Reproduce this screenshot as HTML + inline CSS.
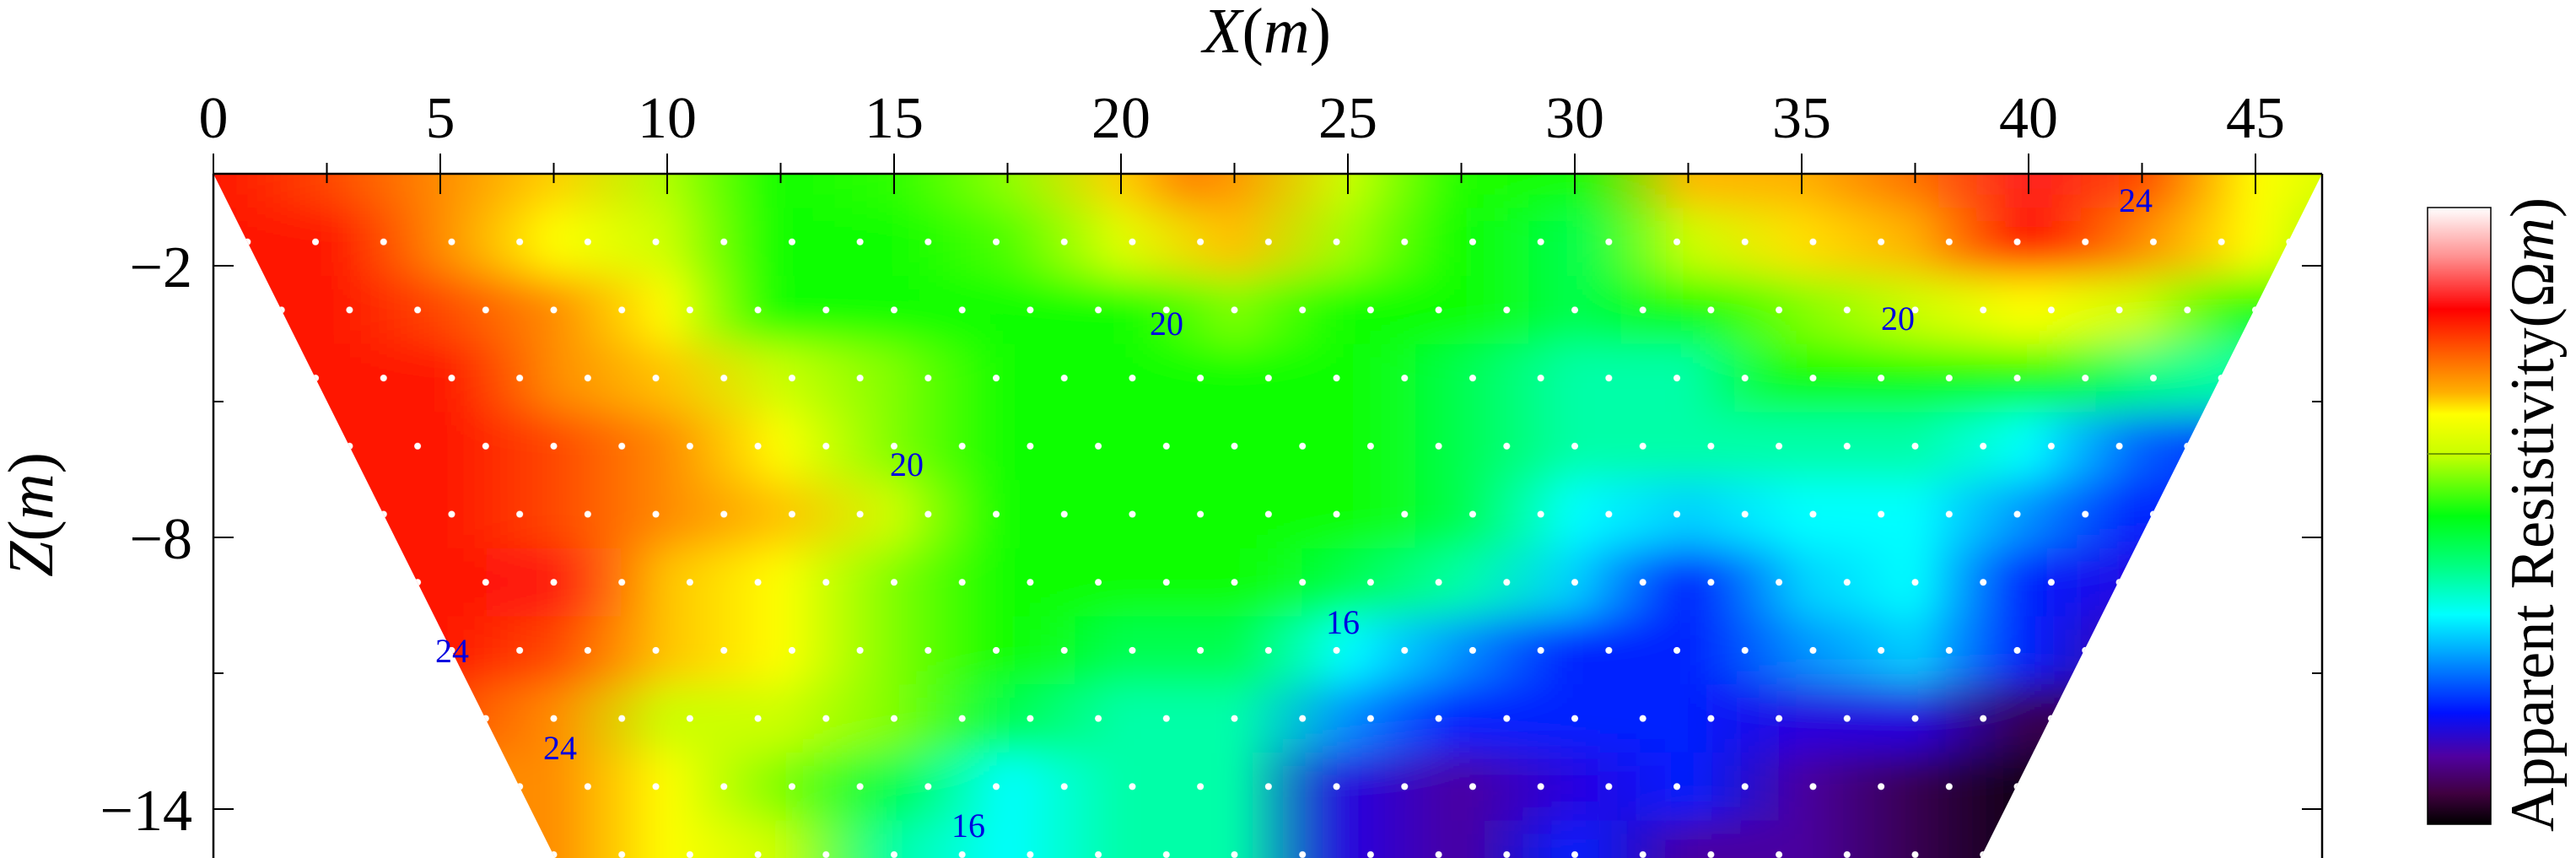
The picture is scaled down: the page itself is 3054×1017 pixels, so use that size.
<!DOCTYPE html>
<html><head><meta charset="utf-8"><style>
html,body{margin:0;padding:0;background:#fff;overflow:hidden;width:3054px;height:1017px;}
svg{display:block;}
text{font-family:"Liberation Serif",serif;}
</style></head><body>
<svg width="3054" height="1017" viewBox="0 0 3054 1017" xmlns="http://www.w3.org/2000/svg" overflow="hidden">
<defs>
<clipPath id="trap"><polygon points="253,206 2753,206 2348,1017 658,1017"/></clipPath>
<filter id="bl" x="-10%" y="-10%" width="120%" height="120%"><feGaussianBlur stdDeviation="18 24"/></filter>
<pattern id="dp" patternUnits="userSpaceOnUse" x="253" y="246.35" width="80.7" height="161.4">
<circle cx="40.35" cy="40.35" r="4" fill="#fff"/>
<circle cx="0" cy="121.05" r="4" fill="#fff"/>
<circle cx="80.7" cy="121.05" r="4" fill="#fff"/>
</pattern>
<linearGradient id="cb" x1="0" y1="0" x2="0" y2="1">
<stop offset="0" stop-color="#ffffff"/><stop offset="0.08" stop-color="#ff9090"/><stop offset="0.165" stop-color="#ff0000"/>
<stop offset="0.25" stop-color="#ff7000"/><stop offset="0.30" stop-color="#ffb000"/><stop offset="0.335" stop-color="#ffff00"/>
<stop offset="0.40" stop-color="#c8ff00"/><stop offset="0.50" stop-color="#00ff10"/><stop offset="0.58" stop-color="#00ff80"/>
<stop offset="0.66" stop-color="#00ffff"/><stop offset="0.72" stop-color="#00a8ff"/><stop offset="0.82" stop-color="#0010ff"/>
<stop offset="0.89" stop-color="#5000a0"/><stop offset="0.95" stop-color="#400040"/><stop offset="1" stop-color="#000000"/>
</linearGradient>
<linearGradient id="r0" gradientUnits="userSpaceOnUse" x1="118.5" y1="0" x2="2808.5" y2="0">
<stop offset="0" stop-color="#ff1400"/><stop offset=".05" stop-color="#ff1400"/><stop offset=".1" stop-color="#ff4800"/><stop offset=".15" stop-color="#ff8c00"/><stop offset=".2" stop-color="#ffd000"/><stop offset=".25" stop-color="#b0ff00"/><stop offset=".3" stop-color="#10ff00"/><stop offset=".35" stop-color="#30ff00"/><stop offset=".4" stop-color="#90ff00"/><stop offset=".45" stop-color="#ffd000"/><stop offset=".48" stop-color="#ff8000"/><stop offset=".5" stop-color="#ff9800"/><stop offset=".55" stop-color="#ccff00"/><stop offset=".6" stop-color="#20ff00"/><stop offset=".65" stop-color="#10ff00"/><stop offset=".7" stop-color="#ffb800"/><stop offset=".75" stop-color="#ffb000"/><stop offset=".8" stop-color="#ff7000"/><stop offset=".85" stop-color="#ff2020"/><stop offset=".9" stop-color="#ff4800"/><stop offset=".95" stop-color="#ffff00"/><stop offset="1" stop-color="#ccff00"/>
</linearGradient>
<linearGradient id="r1" gradientUnits="userSpaceOnUse" x1="118.5" y1="0" x2="2808.5" y2="0">
<stop offset="0" stop-color="#ff1400"/><stop offset=".05" stop-color="#ff1400"/><stop offset=".1" stop-color="#ff1400"/><stop offset=".15" stop-color="#ff8c00"/><stop offset=".2" stop-color="#ffff00"/><stop offset=".25" stop-color="#ccff00"/><stop offset=".3" stop-color="#10ff00"/><stop offset=".35" stop-color="#10ff00"/><stop offset=".4" stop-color="#50ff00"/><stop offset=".45" stop-color="#e0ff00"/><stop offset=".5" stop-color="#ffc000"/><stop offset=".55" stop-color="#a0ff00"/><stop offset=".6" stop-color="#10ff00"/><stop offset=".65" stop-color="#00ff50"/><stop offset=".7" stop-color="#ccff00"/><stop offset=".75" stop-color="#ffe000"/><stop offset=".8" stop-color="#ffb000"/><stop offset=".85" stop-color="#ff1400"/><stop offset=".9" stop-color="#ff8c00"/><stop offset=".95" stop-color="#ffff00"/><stop offset="1" stop-color="#80ff00"/>
</linearGradient>
<linearGradient id="r2" gradientUnits="userSpaceOnUse" x1="118.5" y1="0" x2="2808.5" y2="0">
<stop offset="0" stop-color="#ff1400"/><stop offset=".05" stop-color="#ff1400"/><stop offset=".1" stop-color="#ff1400"/><stop offset=".15" stop-color="#ff4800"/><stop offset=".2" stop-color="#ff8c00"/><stop offset=".25" stop-color="#ffff00"/><stop offset=".3" stop-color="#10ff00"/><stop offset=".35" stop-color="#10ff00"/><stop offset=".4" stop-color="#10ff00"/><stop offset=".45" stop-color="#10ff00"/><stop offset=".5" stop-color="#80ff00"/><stop offset=".55" stop-color="#10ff00"/><stop offset=".6" stop-color="#10ff00"/><stop offset=".65" stop-color="#00ff50"/><stop offset=".7" stop-color="#10ff00"/><stop offset=".75" stop-color="#80ff00"/><stop offset=".8" stop-color="#ccff00"/><stop offset=".85" stop-color="#ffff00"/><stop offset=".9" stop-color="#ccff00"/><stop offset=".95" stop-color="#10ff00"/><stop offset="1" stop-color="#10ff00"/>
</linearGradient>
<linearGradient id="r3" gradientUnits="userSpaceOnUse" x1="118.5" y1="0" x2="2808.5" y2="0">
<stop offset="0" stop-color="#ff1400"/><stop offset=".05" stop-color="#ff1400"/><stop offset=".1" stop-color="#ff1400"/><stop offset=".15" stop-color="#ff1400"/><stop offset=".2" stop-color="#ff8c00"/><stop offset=".25" stop-color="#ffc400"/><stop offset=".3" stop-color="#ccff00"/><stop offset=".35" stop-color="#80ff00"/><stop offset=".4" stop-color="#10ff00"/><stop offset=".45" stop-color="#10ff00"/><stop offset=".5" stop-color="#10ff00"/><stop offset=".55" stop-color="#10ff00"/><stop offset=".6" stop-color="#00ff50"/><stop offset=".65" stop-color="#00ffa8"/><stop offset=".7" stop-color="#00ffa8"/><stop offset=".75" stop-color="#10ff00"/><stop offset=".8" stop-color="#10ff00"/><stop offset=".85" stop-color="#10ff00"/><stop offset=".9" stop-color="#00ff80"/><stop offset=".95" stop-color="#00ffb0"/><stop offset="1" stop-color="#00ffc0"/>
</linearGradient>
<linearGradient id="r4" gradientUnits="userSpaceOnUse" x1="118.5" y1="0" x2="2808.5" y2="0">
<stop offset="0" stop-color="#ff1400"/><stop offset=".05" stop-color="#ff1400"/><stop offset=".1" stop-color="#ff1400"/><stop offset=".15" stop-color="#ff1400"/><stop offset=".2" stop-color="#ff4800"/><stop offset=".25" stop-color="#ff8c00"/><stop offset=".3" stop-color="#ffff00"/><stop offset=".35" stop-color="#80ff00"/><stop offset=".4" stop-color="#10ff00"/><stop offset=".45" stop-color="#10ff00"/><stop offset=".5" stop-color="#10ff00"/><stop offset=".55" stop-color="#10ff00"/><stop offset=".6" stop-color="#00ff50"/><stop offset=".65" stop-color="#00ffa8"/><stop offset=".7" stop-color="#00ffa8"/><stop offset=".75" stop-color="#00ffa8"/><stop offset=".8" stop-color="#00ffa8"/><stop offset=".85" stop-color="#00ffff"/><stop offset=".9" stop-color="#0060ff"/><stop offset=".95" stop-color="#0020ff"/><stop offset="1" stop-color="#0020ff"/>
</linearGradient>
<linearGradient id="r5" gradientUnits="userSpaceOnUse" x1="118.5" y1="0" x2="2808.5" y2="0">
<stop offset="0" stop-color="#ff1400"/><stop offset=".05" stop-color="#ff1400"/><stop offset=".1" stop-color="#ff1400"/><stop offset=".15" stop-color="#ff1400"/><stop offset=".2" stop-color="#ff4800"/><stop offset=".25" stop-color="#ff8c00"/><stop offset=".3" stop-color="#ffc400"/><stop offset=".35" stop-color="#ccff00"/><stop offset=".4" stop-color="#10ff00"/><stop offset=".45" stop-color="#10ff00"/><stop offset=".5" stop-color="#10ff00"/><stop offset=".55" stop-color="#10ff00"/><stop offset=".6" stop-color="#00ff50"/><stop offset=".65" stop-color="#00ffff"/><stop offset=".7" stop-color="#00d0ff"/><stop offset=".75" stop-color="#00ffff"/><stop offset=".8" stop-color="#00ffff"/><stop offset=".85" stop-color="#0090ff"/><stop offset=".9" stop-color="#0020ff"/><stop offset=".95" stop-color="#0020ff"/><stop offset="1" stop-color="#0020ff"/>
</linearGradient>
<linearGradient id="r6" gradientUnits="userSpaceOnUse" x1="118.5" y1="0" x2="2808.5" y2="0">
<stop offset="0" stop-color="#ff1400"/><stop offset=".05" stop-color="#ff1400"/><stop offset=".1" stop-color="#ff1400"/><stop offset=".15" stop-color="#ff1400"/><stop offset=".2" stop-color="#ff1a10"/><stop offset=".25" stop-color="#ffc400"/><stop offset=".3" stop-color="#ffff00"/><stop offset=".35" stop-color="#80ff00"/><stop offset=".4" stop-color="#10ff00"/><stop offset=".45" stop-color="#10ff00"/><stop offset=".5" stop-color="#10ff00"/><stop offset=".55" stop-color="#00ff50"/><stop offset=".6" stop-color="#00ffa8"/><stop offset=".65" stop-color="#00d0ff"/><stop offset=".7" stop-color="#0020ff"/><stop offset=".75" stop-color="#00d0ff"/><stop offset=".8" stop-color="#00ffff"/><stop offset=".85" stop-color="#0020ff"/><stop offset=".9" stop-color="#2800e0"/><stop offset=".95" stop-color="#2800e0"/><stop offset="1" stop-color="#4a00a0"/>
</linearGradient>
<linearGradient id="r7" gradientUnits="userSpaceOnUse" x1="118.5" y1="0" x2="2808.5" y2="0">
<stop offset="0" stop-color="#ff1400"/><stop offset=".05" stop-color="#ff1400"/><stop offset=".1" stop-color="#ff1400"/><stop offset=".15" stop-color="#ff1400"/><stop offset=".2" stop-color="#ff4800"/><stop offset=".25" stop-color="#ffc400"/><stop offset=".3" stop-color="#ffff00"/><stop offset=".35" stop-color="#80ff00"/><stop offset=".4" stop-color="#10ff00"/><stop offset=".45" stop-color="#00ff50"/><stop offset=".5" stop-color="#00ff50"/><stop offset=".55" stop-color="#00ffff"/><stop offset=".6" stop-color="#0090ff"/><stop offset=".65" stop-color="#0020ff"/><stop offset=".7" stop-color="#0020ff"/><stop offset=".75" stop-color="#0090ff"/><stop offset=".8" stop-color="#00d0ff"/><stop offset=".85" stop-color="#0020ff"/><stop offset=".9" stop-color="#4a00a0"/><stop offset=".95" stop-color="#4a00a0"/><stop offset="1" stop-color="#4a00a0"/>
</linearGradient>
<linearGradient id="r8" gradientUnits="userSpaceOnUse" x1="118.5" y1="0" x2="2808.5" y2="0">
<stop offset="0" stop-color="#ff1400"/><stop offset=".05" stop-color="#ff1400"/><stop offset=".1" stop-color="#ff4800"/><stop offset=".15" stop-color="#ff4800"/><stop offset=".2" stop-color="#ff8c00"/><stop offset=".25" stop-color="#ccff00"/><stop offset=".3" stop-color="#ccff00"/><stop offset=".35" stop-color="#80ff00"/><stop offset=".4" stop-color="#00ff50"/><stop offset=".45" stop-color="#00ffa8"/><stop offset=".5" stop-color="#00ffa8"/><stop offset=".55" stop-color="#0090ff"/><stop offset=".6" stop-color="#0020ff"/><stop offset=".65" stop-color="#0020ff"/><stop offset=".7" stop-color="#0020ff"/><stop offset=".75" stop-color="#2800e0"/><stop offset=".8" stop-color="#2800e0"/><stop offset=".85" stop-color="#380050"/><stop offset=".9" stop-color="#380050"/><stop offset=".95" stop-color="#380050"/><stop offset="1" stop-color="#380050"/>
</linearGradient>
<linearGradient id="r9" gradientUnits="userSpaceOnUse" x1="118.5" y1="0" x2="2808.5" y2="0">
<stop offset="0" stop-color="#ff8c00"/><stop offset=".05" stop-color="#ff8c00"/><stop offset=".1" stop-color="#ff8c00"/><stop offset=".15" stop-color="#ff8c00"/><stop offset=".2" stop-color="#ff8c00"/><stop offset=".25" stop-color="#ffff00"/><stop offset=".3" stop-color="#80ff00"/><stop offset=".35" stop-color="#00ff50"/><stop offset=".4" stop-color="#00ffff"/><stop offset=".45" stop-color="#00ffa8"/><stop offset=".5" stop-color="#00ffa8"/><stop offset=".55" stop-color="#2800e0"/><stop offset=".6" stop-color="#4a00a0"/><stop offset=".65" stop-color="#2800e0"/><stop offset=".7" stop-color="#0020ff"/><stop offset=".75" stop-color="#4a00a0"/><stop offset=".8" stop-color="#380050"/><stop offset=".85" stop-color="#100010"/><stop offset=".9" stop-color="#100010"/><stop offset=".95" stop-color="#100010"/><stop offset="1" stop-color="#100010"/>
</linearGradient>
<linearGradient id="r10" gradientUnits="userSpaceOnUse" x1="118.5" y1="0" x2="2808.5" y2="0">
<stop offset="0" stop-color="#ff8c00"/><stop offset=".05" stop-color="#ff8c00"/><stop offset=".1" stop-color="#ff8c00"/><stop offset=".15" stop-color="#ff8c00"/><stop offset=".2" stop-color="#ff8c00"/><stop offset=".25" stop-color="#ffff00"/><stop offset=".3" stop-color="#ccff00"/><stop offset=".35" stop-color="#00ffa8"/><stop offset=".4" stop-color="#00ffff"/><stop offset=".45" stop-color="#00ffa8"/><stop offset=".5" stop-color="#00ffa8"/><stop offset=".55" stop-color="#2800e0"/><stop offset=".6" stop-color="#4a00a0"/><stop offset=".65" stop-color="#0020ff"/><stop offset=".7" stop-color="#4a00a0"/><stop offset=".75" stop-color="#4a00a0"/><stop offset=".8" stop-color="#380050"/><stop offset=".85" stop-color="#100010"/><stop offset=".9" stop-color="#100010"/><stop offset=".95" stop-color="#100010"/><stop offset="1" stop-color="#100010"/>
</linearGradient>
</defs>

<g clip-path="url(#trap)">
<g filter="url(#bl)">
<rect x="0" y="80" width="3054" height="167" fill="url(#r0)"/>
<rect x="0" y="246.3" width="3054" height="82" fill="url(#r1)"/>
<rect x="0" y="327" width="3054" height="82" fill="url(#r2)"/>
<rect x="0" y="407.7" width="3054" height="82" fill="url(#r3)"/>
<rect x="0" y="488.4" width="3054" height="82" fill="url(#r4)"/>
<rect x="0" y="569.1" width="3054" height="82" fill="url(#r5)"/>
<rect x="0" y="649.8" width="3054" height="82" fill="url(#r6)"/>
<rect x="0" y="730.5" width="3054" height="82" fill="url(#r7)"/>
<rect x="0" y="811.2" width="3054" height="82" fill="url(#r8)"/>
<rect x="0" y="891.9" width="3054" height="82" fill="url(#r9)"/>
<rect x="0" y="972.6" width="3054" height="120" fill="url(#r10)"/>
</g>
<rect x="200" y="246.35" width="2600" height="770.6" fill="url(#dp)"/>
</g>

<g fill="#0000e0" font-size="40" text-anchor="middle">
<text x="2532" y="251">24</text>
<text x="1383" y="397">20</text>
<text x="2250" y="391">20</text>
<text x="1075" y="564">20</text>
<text x="1592" y="751">16</text>
<text x="536" y="785">24</text>
<text x="664" y="900">24</text>
<text x="1148" y="992">16</text>
</g>

<g stroke="#000" stroke-width="2.5" fill="none">
<line x1="253" y1="206" x2="2753" y2="206"/>
<line x1="253" y1="206" x2="253" y2="1017"/>
<line x1="2753" y1="206" x2="2753" y2="1017"/>
</g>
<g stroke="#000" stroke-width="2">
<line x1="253" y1="182" x2="253" y2="230"/><line x1="522" y1="182" x2="522" y2="230"/><line x1="791" y1="182" x2="791" y2="230"/>
<line x1="1060" y1="182" x2="1060" y2="230"/><line x1="1329" y1="182" x2="1329" y2="230"/><line x1="1598" y1="182" x2="1598" y2="230"/>
<line x1="1867" y1="182" x2="1867" y2="230"/><line x1="2136" y1="182" x2="2136" y2="230"/><line x1="2405" y1="182" x2="2405" y2="230"/>
<line x1="2674" y1="182" x2="2674" y2="230"/>
<line x1="387.5" y1="193" x2="387.5" y2="217"/><line x1="656.5" y1="193" x2="656.5" y2="217"/><line x1="925.5" y1="193" x2="925.5" y2="217"/>
<line x1="1194.5" y1="193" x2="1194.5" y2="217"/><line x1="1463.5" y1="193" x2="1463.5" y2="217"/><line x1="1732.5" y1="193" x2="1732.5" y2="217"/>
<line x1="2001.5" y1="193" x2="2001.5" y2="217"/><line x1="2270.5" y1="193" x2="2270.5" y2="217"/><line x1="2539.5" y1="193" x2="2539.5" y2="217"/>
<line x1="253" y1="315" x2="277" y2="315"/><line x1="253" y1="637" x2="277" y2="637"/><line x1="253" y1="959" x2="277" y2="959"/>
<line x1="253" y1="476" x2="265" y2="476"/><line x1="253" y1="798" x2="265" y2="798"/>
<line x1="2729" y1="315" x2="2753" y2="315"/><line x1="2729" y1="637" x2="2753" y2="637"/><line x1="2729" y1="959" x2="2753" y2="959"/>
<line x1="2741" y1="476" x2="2753" y2="476"/><line x1="2741" y1="798" x2="2753" y2="798"/>
</g>

<g font-size="70" text-anchor="middle" fill="#000">
<text x="253" y="163">0</text><text x="522" y="163">5</text><text x="791" y="163">10</text><text x="1060" y="163">15</text>
<text x="1329" y="163">20</text><text x="1598" y="163">25</text><text x="1867" y="163">30</text><text x="2136" y="163">35</text>
<text x="2405" y="163">40</text><text x="2674" y="163">45</text>
</g>
<g font-size="70" text-anchor="end" fill="#000">
<text x="228" y="340">−2</text><text x="228" y="662">−8</text><text x="228" y="984">−14</text>
</g>
<text x="1502" y="62" font-size="76" text-anchor="middle"><tspan font-style="italic">X</tspan>(<tspan font-style="italic">m</tspan>)</text>
<text transform="translate(62,610) rotate(-90)" font-size="76" text-anchor="middle"><tspan font-style="italic">Z</tspan>(<tspan font-style="italic">m</tspan>)</text>

<rect x="2878" y="246" width="75" height="731" fill="url(#cb)" stroke="#000" stroke-width="1.5"/>
<line x1="2878" y1="538" x2="2953" y2="538" stroke="#70a000" stroke-width="2"/>
<text transform="translate(3027,986) rotate(-90)" font-size="74" textLength="752" lengthAdjust="spacingAndGlyphs">Apparent Resistivity(Ω<tspan font-style="italic">m</tspan>)</text>
</svg>
</body></html>
